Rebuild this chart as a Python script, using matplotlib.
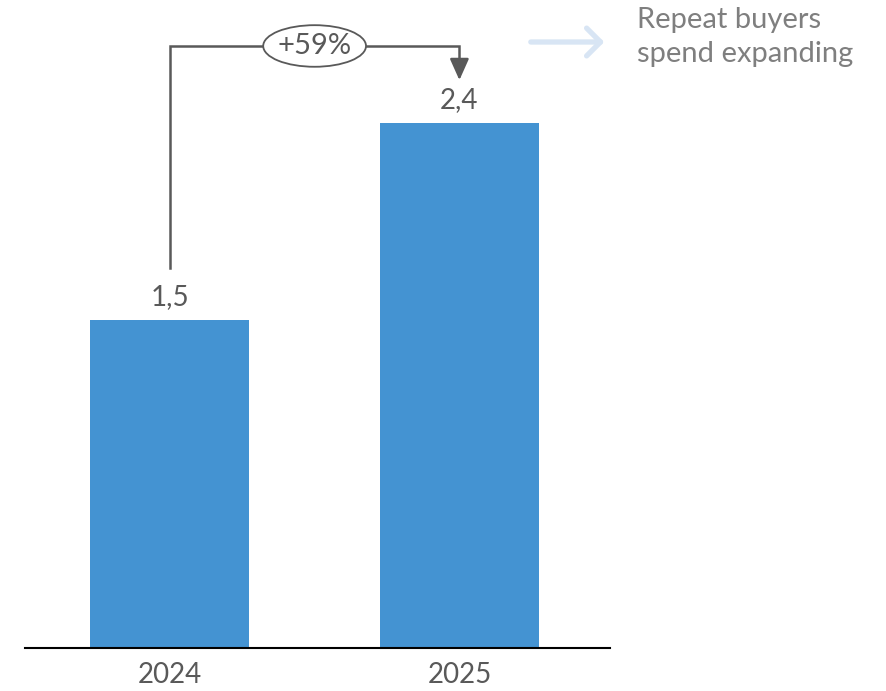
import matplotlib
matplotlib.use("Agg")
import matplotlib.pyplot as plt
from matplotlib.patches import Ellipse, FancyArrowPatch

plt.rcParams['font.family'] = ['Lato', 'DejaVu Sans']

years = ["2024", "2025"]
values = [1.5, 2.4]
value_labels = ["1,5", "2,4"]
growth_label = "+59%"
note_text = "Repeat buyers\nspend expanding"

bar_color = "#4493D2"
text_color = "#595959"
line_color = "#595959"

W, H = 887, 691
fig = plt.figure(figsize=(W / 100, H / 100), dpi=100)
ax = fig.add_axes([25 / W, (H - 648) / H, 585 / W, 648 / H])

x = list(range(len(years)))
ax.bar(x, values, width=0.55, color=bar_color, zorder=2)
ax.set_xlim(-0.5, 1.52)
ax.set_ylim(0, 2.96)

for xi, v, lab in zip(x, values, value_labels):
    ax.text(xi, v + 0.045, lab, ha="center", va="bottom", fontsize=20, color=text_color)

ax.set_xticks(x)
ax.set_xticklabels(years, fontsize=20, color=text_color)
ax.tick_params(axis="x", length=0, pad=10)
ax.set_yticks([])
for s in ["top", "right", "left"]:
    ax.spines[s].set_visible(False)
ax.spines["bottom"].set_color("black")
ax.spines["bottom"].set_linewidth(1.5)

# growth bracket from the first bar to the second
top = 2.75
start = values[0] + 0.235
tip = values[1] + 0.194
ax.plot([x[0], x[0], x[1], x[1]], [start, top, top, tip + 0.08],
        color=line_color, lw=1.8, clip_on=False, zorder=3, solid_joinstyle="miter")
ax.add_patch(FancyArrowPatch((x[1], tip + 0.095), (x[1], tip),
                             arrowstyle="-|>,head_length=13,head_width=5.8",
                             mutation_scale=1, color=line_color, lw=1.8,
                             shrinkA=0, shrinkB=0, clip_on=False, zorder=3))
xm = (x[0] + x[1]) / 2
ax.add_patch(Ellipse((xm, top), width=0.355, height=0.19, facecolor="white",
                     edgecolor=line_color, lw=1.3, clip_on=False, zorder=4))
ax.text(xm, top, growth_label, ha="center", va="center", fontsize=21,
        color=text_color, zorder=5)

# side note with light arrow
fig.patches.append(FancyArrowPatch((528 / W, 1 - 42 / H), (607 / W, 1 - 42 / H),
                                   transform=fig.transFigure,
                                   arrowstyle="->,head_length=10,head_width=10",
                                   color="#D8E5F4", lw=3.8, mutation_scale=1,
                                   capstyle="round", joinstyle="round"))
fig.text(637 / W, 1 - 37 / H, note_text, ha="left", va="center", fontsize=21,
         color="#7F7F7F", linespacing=1.4)

fig.savefig("out.png", dpi=100, facecolor="white")
